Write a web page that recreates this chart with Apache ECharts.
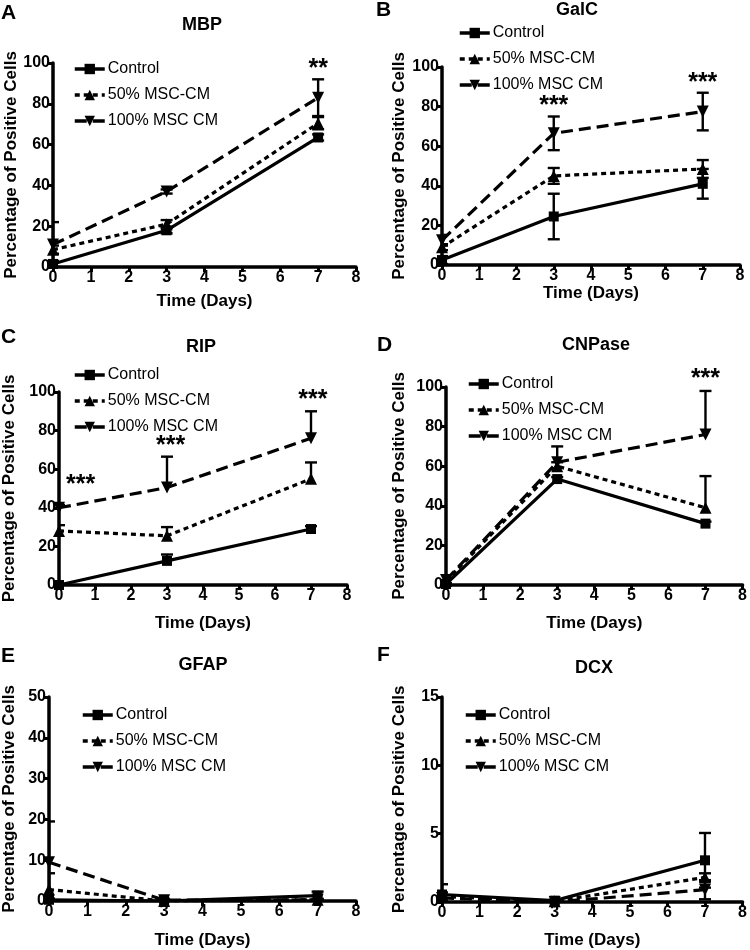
<!DOCTYPE html>
<html><head><meta charset="utf-8">
<script src="https://cdn.jsdelivr.net/npm/echarts@6/dist/echarts.min.js"></script>
<style>html,body{margin:0;padding:0;background:#fff}#c{width:750px;height:950px}</style>
</head><body><div id="c"></div>
<script>
// ---------- data ----------
const days = [0, 3, 7];
const seriesNames = ['Control', '50% MSC-CM', '100% MSC CM'];
const yAxisTitle = 'Percentage of Positive Cells';
const xAxisTitle = 'Time (Days)';

// A: MBP
const mbpControl = [1.5, 18, 63.5];
const mbpControlErr = [1.5, 1.5, 1.5];
const mbp50 = [8.5, 21, 70.5];
const mbp50Err = [2, 2, 3];
const mbp100 = [11, 37, 83];
const mbp100Err = [11, 1, 9];
const mbpSig = [[7, 97, '**']];

// B: GalC
const galcControl = [2.5, 24.5, 41];
const galcControlErr = [2, 11.5, 7.5];
const galc50 = [9, 45, 48.5];
const galc50Err = [1.5, 4, 4.5];
const galc100 = [12.5, 66.5, 77.5];
const galc100Err = [2.7, 8.5, 9.5];
const galcSig = [[3, 80, '***'], [7, 92, '***']];

// C: RIP
const ripControl = [0, 12.5, 29];
const ripControlErr = [0.5, 3.3, 1.5];
const rip50 = [28, 25.5, 55];
const rip50Err = [3, 4.5, 8.5];
const rip100 = [40, 50.5, 76];
const rip100Err = [1.5, 16, 14];
const ripSig = [[0.6, 52, '***'], [3.1, 72, '***'], [7.05, 96, '***']];

// D: CNPase
const cnpControl = [0.5, 53.5, 31];
const cnpControlErr = [0.5, 1, 1];
const cnp50 = [2, 60, 39];
const cnp50Err = [1, 2, 16];
const cnp100 = [2.5, 62, 76];
const cnp100Err = [1, 8, 22];
const cnpSig = [[7, 104, '***']];

// E: GFAP
const gfapControl = [0.3, 0, 1.3];
const gfapControlErr = [0.3, 0, 1];
const gfap50 = [2.8, 0, 0.3];
const gfap50Err = [4, 0, 0.2];
const gfap100 = [9.5, 0.2, 0.3];
const gfap100Err = [10, 0.3, 0.2];
const gfapSig = [];

// F: DCX
const dcxControl = [0.55, 0.1, 3.05];
const dcxControlErr = [0.75, 0.05, 2];
const dcx50 = [0.4, 0.05, 1.8];
const dcx50Err = [0.3, 0.05, 0.3];
const dcx100 = [0.3, 0, 0.9];
const dcx100Err = [0.2, 0, 0.7];
const dcxSig = [];

// ---------- layout / styling ----------
const FONT = 'Liberation Sans, Arial, Helvetica, sans-serif';
const panels = [
  {id:'A', title:'MBP', yMax:100, yStep:20, vals:[mbpControl, mbp50, mbp100], errs:[mbpControlErr, mbp50Err, mbp100Err], sig:mbpSig, upOnly:false,
   grid:{left:53, top:63, width:303, height:204}, legend:{left:68, top:56}, titlePos:[202,25], letterPos:[1,13], yGap:33, xGap:26},
  {id:'B', title:'GalC', yMax:100, yStep:20, vals:[galcControl, galc50, galc100], errs:[galcControlErr, galc50Err, galc100Err], sig:galcSig, upOnly:false,
   grid:{left:442, top:67, width:298, height:198}, legend:{left:453, top:20}, titlePos:[577,10], letterPos:[376,10], yGap:34, xGap:20},
  {id:'C', title:'RIP', yMax:100, yStep:20, vals:[ripControl, rip50, rip100], errs:[ripControlErr, rip50Err, rip100Err], sig:ripSig, upOnly:true,
   grid:{left:58, top:392, width:289, height:193}, legend:{left:68, top:362}, titlePos:[201,347], letterPos:[1,337], yGap:41, xGap:30},
  {id:'D', title:'CNPase', yMax:100, yStep:20, vals:[cnpControl, cnp50, cnp100], errs:[cnpControlErr, cnp50Err, cnp100Err], sig:cnpSig, upOnly:true,
   grid:{left:446, top:387, width:299, height:198}, legend:{left:462, top:371}, titlePos:[596,345], letterPos:[377,345], yGap:38, xGap:30},
  {id:'E', title:'GFAP', yMax:50, yStep:10, vals:[gfapControl, gfap50, gfap100], errs:[gfapControlErr, gfap50Err, gfap100Err], sig:gfapSig, upOnly:false,
   grid:{left:49, top:697, width:307, height:204}, legend:{left:76, top:702}, titlePos:[203,665], letterPos:[1,656], yGap:31, xGap:31},
  {id:'F', title:'DCX', yMax:15, yStep:5, vals:[dcxControl, dcx50, dcx100], errs:[dcxControlErr, dcx50Err, dcx100Err], sig:dcxSig, upOnly:false,
   grid:{left:442, top:697, width:305, height:205}, legend:{left:459, top:702}, titlePos:[594,668], letterPos:[377,655], yGap:34, xGap:30}
];
const lineTypes = ['solid', [5, 4], [12, 6]];
const symbols = ['rect', 'triangle', 'triangle'];
const symbolRot = [0, 0, 180];

const grids = [], xAxes = [], yAxes = [], series = [], legends = [], graphics = [];
const axisTextStyle = {color:'#000', fontWeight:'bold', fontSize:16, fontFamily:FONT};
const nameStyle = {color:'#000', fontWeight:'bold', fontSize:17, fontFamily:FONT};

panels.forEach((p, i) => {
  grids.push(Object.assign({containLabel:false}, p.grid));
  xAxes.push({
    type:'value', gridIndex:i, min:0, max:8, interval:1,
    axisLine:{show:true, onZero:false, lineStyle:{color:'#000', width:3.5}},
    axisTick:{show:true, length:5, lineStyle:{color:'#000', width:3}},
    axisLabel:{...axisTextStyle, margin:3},
    splitLine:{show:false},
    name:xAxisTitle, nameLocation:'middle', nameGap:p.xGap,
    nameTextStyle:{...nameStyle, fontSize:17, verticalAlign:'top'}
  });
  yAxes.push({
    type:'value', gridIndex:i, min:0, max:p.yMax, interval:p.yStep,
    axisLine:{show:true, onZero:false, lineStyle:{color:'#000', width:3.5}},
    axisTick:{show:true, length:5, lineStyle:{color:'#000', width:3}},
    axisLabel:{...axisTextStyle, margin:3},
    splitLine:{show:false},
    name:yAxisTitle, nameLocation:'middle', nameGap:p.yGap, nameRotate:90,
    nameTextStyle:nameStyle
  });
  p.vals.forEach((vals, k) => {
    series.push({
      name:seriesNames[k], type:'line', xAxisIndex:i, yAxisIndex:i,
      data:days.map((d, j) => [d, vals[j]]),
      symbol:symbols[k], symbolRotate:symbolRot[k], symbolSize:k === 0 ? 10 : 12,
      lineStyle:{color:'#000', width:3.2, type:lineTypes[k]},
      itemStyle:{color:'#000'}, z:3, animation:false
    });
    const errs = p.errs[k];
    series.push({
      name:'err-' + p.id + '-' + k, type:'custom', xAxisIndex:i, yAxisIndex:i, clip:true,
      data:days.map((d, j) => [d, vals[j], p.upOnly ? vals[j] : vals[j] - errs[j], vals[j] + errs[j]]),
      encode:{x:0, y:1},
      renderItem:(params, api) => {
        const x = api.value(0), lo = api.value(2), hi = api.value(3), m = api.value(1);
        const ph = api.coord([x, hi]), pl = api.coord([x, lo]);
        const cap = 6, st = {stroke:'#000', lineWidth:2.4};
        const ch = [
          {type:'line', shape:{x1:ph[0], y1:ph[1], x2:pl[0], y2:pl[1]}, style:st},
          {type:'line', shape:{x1:ph[0]-cap, y1:ph[1], x2:ph[0]+cap, y2:ph[1]}, style:st}
        ];
        if (lo < m) ch.push({type:'line', shape:{x1:pl[0]-cap, y1:pl[1], x2:pl[0]+cap, y2:pl[1]}, style:st});
        return {type:'group', children:ch};
      },
      z:2, animation:false
    });
  });
  if (p.sig.length) {
    const sig = p.sig;
    series.push({
      name:'sig-' + p.id, type:'custom', xAxisIndex:i, yAxisIndex:i, clip:false,
      data:sig.map(s => [s[0], s[1]]), encode:{x:0, y:1},
      renderItem:(params, api) => {
        const s = sig[params.dataIndex];
        const c = api.coord([s[0], s[1]]);
        return {type:'text', x:c[0], y:c[1], style:{text:s[2], font:'bold 25px ' + FONT, fill:'#000', align:'center', verticalAlign:'middle'}};
      },
      z:4, animation:false
    });
  }
  legends.push({
    data:seriesNames.map((n, k) => ({name:n, lineStyle:{color:'#000', width:3.5, type:lineTypes[k]}})),
    orient:'vertical', left:p.legend.left, top:p.legend.top,
    itemWidth:30, itemHeight:13, itemGap:10, selectedMode:false,
    textStyle:{color:'#000', fontSize:16, fontFamily:FONT, padding:[0,0,0,-2]}
  });
  graphics.push({type:'text', x:p.titlePos[0], y:p.titlePos[1],
    style:{text:p.title, font:'bold 18px ' + FONT, fill:'#000', align:'center', verticalAlign:'middle'}});
  graphics.push({type:'text', x:p.letterPos[0], y:p.letterPos[1],
    style:{text:p.id, font:'bold 21px ' + FONT, fill:'#000', align:'left', verticalAlign:'middle'}});
});

const chart = echarts.init(document.getElementById('c'), null, {renderer:'canvas'});
chart.setOption({
  backgroundColor:'#fff', animation:false,
  grid:grids, xAxis:xAxes, yAxis:yAxes, series:series, legend:legends, graphic:graphics
});
</script>
</body></html>
